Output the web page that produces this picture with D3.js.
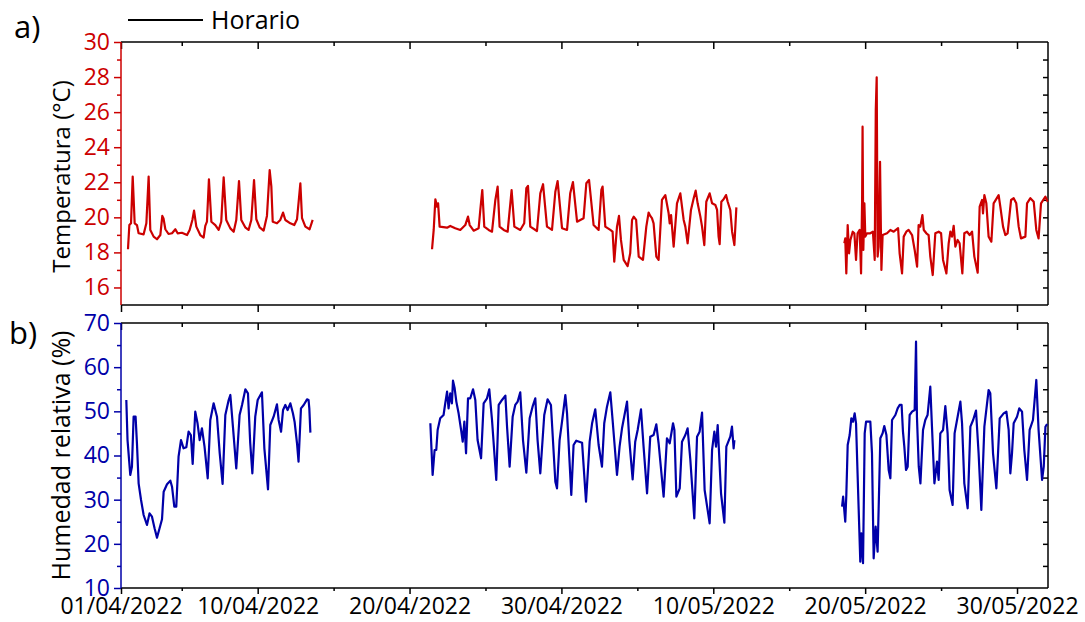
<!DOCTYPE html>
<html>
<head>
  <meta charset="utf-8">
  <style>
    body {
      margin: 0;
      background: #fff;
      font-family: "Open Sans", "Noto Sans", sans-serif;
    }
    .axis text {
      font-family: "Open Sans", "Noto Sans", sans-serif;
      font-size: 23px;
    }
  </style>
</head>
<body>
  <div id="chart"></div>
  <script src="https://d3js.org/d3.v7.min.js"></script>
  <script>

    // DATA (day = days since 01/04/2022 00:00)
    var tempSeg1 = [[0.46,18.18],[0.55,19.56],[0.66,19.66],[0.77,22.32],[0.9,19.66],[1.05,19.56],[1.16,19.09],[1.49,19.03],[1.67,19.66],[1.82,22.32],[1.93,19.28],[2.15,18.9],[2.37,18.75],[2.59,18.99],[2.72,20.08],[2.8,19.94],[2.92,19.32],[3.13,19.05],[3.36,19.09],[3.58,19.32],[3.73,19.09],[4.01,19.12],[4.35,18.99],[4.52,19.28],[4.7,19.85],[4.81,20.38],[4.96,19.47],[5.22,18.99],[5.44,18.84],[5.55,19.51],[5.66,19.75],[5.79,22.17],[5.95,19.75],[6.21,19.56],[6.43,19.28],[6.6,19.75],[6.76,22.28],[6.93,19.85],[7.2,19.37],[7.42,19.18],[7.59,19.85],[7.77,22.07],[7.92,19.85],[8.18,19.43],[8.4,19.28],[8.58,19.85],[8.76,22.13],[8.91,19.89],[9.13,19.43],[9.39,19.24],[9.61,20.08],[9.79,22.7],[9.9,21.75],[9.99,19.75],[10.27,19.66],[10.49,19.85],[10.67,20.27],[10.82,19.85],[11.15,19.66],[11.41,19.56],[11.59,19.89],[11.81,21.94],[11.92,19.95],[12.14,19.47],[12.42,19.32],[12.62,19.85]];

    var tempSeg2 = [[20.48,18.18],[20.59,19.28],[20.7,21.03],[20.81,20.61],[20.88,20.8],[20.98,19.47],[21.47,19.41],[21.68,19.51],[22.01,19.38],[22.34,19.28],[22.67,19.56],[22.85,20.04],[22.96,19.56],[23.22,19.24],[23.55,19.38],[23.66,20.42],[23.79,21.56],[23.92,19.47],[24.21,19.28],[24.43,19.18],[24.65,20.99],[24.8,21.75],[24.93,19.47],[25.2,19.28],[25.46,19.18],[25.72,21.56],[25.9,19.47],[26.29,19.28],[26.55,19.66],[26.69,21.66],[26.8,21.79],[26.95,19.47],[27.39,19.22],[27.61,21.37],[27.79,21.89],[28.05,19.47],[28.38,19.28],[28.6,21.46],[28.75,22.07],[29.04,19.38],[29.37,19.28],[29.58,21.37],[29.76,22.01],[30.03,19.75],[30.46,19.95],[30.64,21.94],[30.82,22.13],[31.12,19.56],[31.45,19.28],[31.63,21.56],[31.71,21.75],[31.89,19.47],[32.22,19.28],[32.37,19.18],[32.48,17.47],[32.66,19.47],[32.79,20.08],[32.92,18.71],[33.1,17.57],[33.36,17.22],[33.53,17.95],[33.65,19.85],[33.76,20.04],[33.92,19.85],[34.09,17.76],[34.37,17.57],[34.59,19.47],[34.74,20.27],[34.85,20.08],[34.96,19.95],[35.07,19.66],[35.25,17.76],[35.4,17.57],[35.62,20.99],[35.84,21.27],[36.06,20.23],[36.13,19.66],[36.22,20.13],[36.39,18.33],[36.61,20.8],[36.83,21.37],[37.05,19.85],[37.16,19.47],[37.31,18.52],[37.53,20.42],[37.71,21.09],[37.84,21.52],[37.97,20.8],[38.15,20.04],[38.26,19.47],[38.41,18.42],[38.54,20.89],[38.76,21.37],[38.92,20.8],[39.14,20.7],[39.25,20.42],[39.35,18.9],[39.42,18.47],[39.53,20.89],[39.68,21.03],[39.84,21.27],[39.95,20.89],[40.12,20.42],[40.24,19.18],[40.39,18.42],[40.52,20.57]];

    var tempSeg3 = [[47.63,18.52],[47.69,18.8],[47.76,16.8],[47.85,19.56],[47.94,17.95],[48.03,18.71],[48.18,19.18],[48.29,19.09],[48.4,17.57],[48.5,19.09],[48.64,19.28],[48.73,16.8],[48.8,20.99],[48.83,25.17],[48.88,18.14],[48.95,20.8],[49.01,18.9],[49.12,19.09],[49.34,19.09],[49.51,19.18],[49.63,17.57],[49.7,26.12],[49.76,27.99],[49.82,17.76],[49.89,18.33],[49.98,23.17],[50.07,17.0],[50.15,18.99],[50.44,19.09],[50.66,19.28],[50.88,19.18],[51.17,19.38],[51.27,17.95],[51.43,16.8],[51.54,18.9],[51.71,19.18],[51.86,19.28],[52.09,18.99],[52.26,18.14],[52.42,17.19],[52.52,19.56],[52.63,19.47],[52.77,20.13],[52.86,19.28],[53.03,19.09],[53.18,18.99],[53.29,17.76],[53.45,16.71],[53.62,19.09],[53.84,19.18],[54.0,19.09],[54.13,17.57],[54.35,16.8],[54.5,18.52],[54.61,19.18],[54.72,18.9],[54.83,19.52],[54.94,18.33],[55.09,18.71],[55.22,18.52],[55.4,16.8],[55.53,19.09],[55.71,19.18],[55.88,18.99],[56.04,19.18],[56.19,17.76],[56.41,16.84],[56.54,20.61],[56.7,20.99],[56.76,20.23],[56.85,21.27],[56.98,20.8],[57.13,18.9],[57.31,18.61],[57.46,20.8],[57.79,21.27],[57.9,20.61],[58.08,19.47],[58.23,18.99],[58.38,19.09],[58.61,20.99],[58.78,21.09],[58.95,20.8],[59.11,19.47],[59.26,18.8],[59.55,18.9],[59.66,20.8],[59.88,21.09],[60.1,20.89],[60.27,19.28],[60.42,18.8],[60.58,20.8],[60.87,21.18],[61.02,20.89]];

    var humSeg1 = [[0.35,52.57],[0.43,43.5],[0.61,35.6],[0.72,37.47],[0.83,48.79],[0.96,48.79],[1.05,42.77],[1.16,33.7],[1.32,29.93],[1.49,26.53],[1.71,24.27],[1.88,26.9],[2.04,26.15],[2.21,23.52],[2.37,21.41],[2.54,23.52],[2.7,25.56],[2.81,31.81],[3.03,33.48],[3.25,34.3],[3.36,32.94],[3.51,28.41],[3.64,28.41],[3.79,39.73],[3.95,43.5],[4.12,41.63],[4.3,41.86],[4.45,45.39],[4.6,44.64],[4.72,38.08],[4.89,49.92],[5.04,47.29],[5.18,43.5],[5.33,46.16],[5.5,42.0],[5.71,34.84],[5.88,48.04],[6.1,51.82],[6.32,48.79],[6.5,40.5],[6.69,33.55],[6.87,49.17],[7.09,52.57],[7.2,53.7],[7.37,46.52],[7.59,37.1],[7.81,49.17],[7.97,51.44],[8.19,54.99],[8.36,54.08],[8.51,42.77],[8.65,35.97],[8.84,48.79],[9.0,52.57],[9.28,54.31],[9.44,41.63],[9.68,32.35],[9.83,46.91],[10.05,48.79],[10.27,51.59],[10.38,48.04],[10.54,45.39],[10.67,50.3],[10.82,51.44],[10.97,50.3],[11.15,51.82],[11.32,49.55],[11.43,47.66],[11.59,42.77],[11.69,38.6],[11.85,50.68],[12.03,51.44],[12.25,52.72],[12.35,52.57],[12.4,50.68],[12.47,45.17]];

    var humSeg2 = [[20.37,47.29],[20.52,35.59],[20.65,41.25],[20.76,41.25],[20.85,45.78],[21.02,48.42],[21.24,49.17],[21.35,51.82],[21.47,54.45],[21.57,50.68],[21.68,54.08],[21.79,51.82],[21.86,56.94],[21.97,55.22],[22.08,52.2],[22.23,49.55],[22.41,45.39],[22.5,43.13],[22.61,47.66],[22.72,40.5],[22.85,52.95],[23.0,52.95],[23.18,54.99],[23.33,52.57],[23.48,43.5],[23.71,39.37],[23.88,51.82],[24.1,52.95],[24.25,54.99],[24.43,48.04],[24.71,34.46],[24.87,51.44],[25.09,52.57],[25.31,53.55],[25.42,46.52],[25.59,37.47],[25.79,48.79],[25.96,51.44],[26.12,52.2],[26.29,54.31],[26.47,43.5],[26.69,36.1],[26.91,48.42],[27.1,51.06],[27.28,52.95],[27.43,43.5],[27.61,35.97],[27.87,49.17],[28.09,52.72],[28.31,51.44],[28.6,34.08],[28.71,32.57],[28.88,43.5],[29.04,47.66],[29.26,53.7],[29.37,49.55],[29.65,31.06],[29.8,42.38],[29.98,43.35],[30.36,42.9],[30.62,29.55],[30.86,43.13],[31.02,47.29],[31.23,50.45],[31.45,42.38],[31.67,37.47],[31.82,47.29],[32.0,51.06],[32.22,54.31],[32.37,48.04],[32.66,35.59],[32.83,42.0],[32.99,46.16],[33.32,52.2],[33.47,43.5],[33.69,34.61],[33.86,43.13],[34.02,45.78],[34.24,50.45],[34.41,42.0],[34.64,31.44],[34.85,44.26],[35.07,44.64],[35.25,47.07],[35.4,42.77],[35.73,30.68],[35.95,43.9],[36.13,42.77],[36.35,47.29],[36.44,45.78],[36.57,30.68],[36.79,32.57],[36.94,43.13],[37.16,44.64],[37.31,46.16],[37.49,38.98],[37.75,25.78],[37.93,44.26],[38.1,45.39],[38.26,49.7],[38.43,32.19],[38.76,24.65],[38.92,41.25],[39.07,45.39],[39.18,42.0],[39.29,46.91],[39.51,31.44],[39.73,24.8],[39.86,42.0],[40.12,44.26],[40.23,46.52],[40.34,41.63],[40.39,43.5]];

    var humSeg3 = [[47.48,28.41],[47.55,30.68],[47.69,25.0],[47.76,31.06],[47.85,42.38],[47.98,44.64],[48.09,48.42],[48.2,47.66],[48.31,49.55],[48.4,47.29],[48.5,35.97],[48.68,15.97],[48.75,22.39],[48.86,15.6],[48.97,45.02],[49.06,47.66],[49.34,47.66],[49.45,40.5],[49.56,16.72],[49.69,23.88],[49.82,18.22],[50.0,43.9],[50.15,45.02],[50.26,46.68],[50.4,44.64],[50.55,36.72],[50.66,34.84],[50.77,48.04],[50.99,49.17],[51.14,50.68],[51.27,51.44],[51.4,51.44],[51.49,45.39],[51.58,42.0],[51.69,36.72],[51.8,37.47],[51.93,49.17],[52.09,49.92],[52.26,50.3],[52.35,65.77],[52.41,48.79],[52.53,37.47],[52.64,33.7],[52.81,45.78],[52.96,48.04],[53.11,49.17],[53.29,55.58],[53.4,46.52],[53.56,33.7],[53.73,38.6],[53.84,34.46],[53.95,45.02],[54.13,45.78],[54.28,51.21],[54.43,45.02],[54.56,32.19],[54.76,28.8],[54.89,45.02],[55.05,48.04],[55.27,52.2],[55.38,47.29],[55.53,33.7],[55.75,28.05],[55.93,46.52],[56.11,48.04],[56.3,50.15],[56.47,40.5],[56.65,27.67],[56.85,46.52],[57.13,54.83],[57.24,54.08],[57.42,40.5],[57.64,32.57],[57.86,48.42],[58.12,49.55],[58.3,49.92],[58.45,45.78],[58.56,35.97],[58.67,40.5],[58.78,47.29],[59.0,48.79],[59.15,50.68],[59.33,49.92],[59.48,41.25],[59.66,34.46],[59.83,45.78],[60.05,48.04],[60.27,57.1],[60.42,45.78],[60.65,34.46],[60.76,37.47],[60.87,46.52],[60.98,47.14]];

    var xMajorLabels = ['01/04/2022', '10/04/2022', '20/04/2022', '30/04/2022', '10/05/2022', '20/05/2022', '30/05/2022'];
    var xMinorLabels = ['05/04/2022', '15/04/2022', '25/04/2022', '05/05/2022', '15/05/2022', '25/05/2022'];
    var tempTicks = [16, 18, 20, 22, 24, 26, 28, 30];
    var tempMinor = [17, 19, 21, 23, 25, 27, 29];
    var humTicks = [10, 20, 30, 40, 50, 60, 70];
    var humMinor = [15, 25, 35, 45, 55, 65];
    var legendLabel = 'Horario';

    // LAYOUT
    var width = 1085, height = 622;
    var left = 121, right = 1048;
    var topA = 42, bottomA = 305;
    var topB = 323, bottomB = 588;
    var red = '#cc0000', blue = '#0000a8';

    var parse = d3.timeParse('%d/%m/%Y');
    var start = parse('01/04/2022');
    var DAY = 864e5;
    function toDate(d) { return new Date(start.getTime() + d * DAY); }

    var x = d3.scaleTime()
      .domain([start, toDate(61.04)])
      .range([left, right]);

    var yT = d3.scaleLinear().domain([15, 30]).range([bottomA, topA]);
    var yH = d3.scaleLinear().domain([10, 70]).range([bottomB, topB]);

    var svg = d3.select('#chart').append('svg')
      .attr('width', width)
      .attr('height', height);

    var majorDates = xMajorLabels.map(parse);
    var minorDates = xMinorLabels.map(parse);

    function styleAxis(g, color) {
      g.select('.domain').remove();
      g.selectAll('line').attr('stroke', color).attr('stroke-width', 1.5);
      g.selectAll('text').attr('fill', color);
    }

    function xAxes(yPos, major, minor, labels) {
      var gMaj = svg.append('g').attr('class', 'axis')
        .attr('transform', 'translate(0,' + yPos + ')')
        .call(d3.axisBottom(x).tickValues(majorDates).tickSize(major).tickPadding(4)
          .tickFormat(labels ? d3.timeFormat('%d/%m/%Y') : ''));
      styleAxis(gMaj, '#000');
      var gMin = svg.append('g').attr('class', 'axis')
        .attr('transform', 'translate(0,' + yPos + ')')
        .call(d3.axisBottom(x).tickValues(minorDates).tickSize(minor).tickFormat(''));
      styleAxis(gMin, '#000');
    }

    function yAxes(y, ticks, minor, rightTicks, color) {
      var gL = svg.append('g').attr('class', 'axis')
        .attr('transform', 'translate(' + left + ',0)')
        .call(d3.axisLeft(y).tickValues(ticks).tickSize(7).tickPadding(4));
      styleAxis(gL, color);
      var gLm = svg.append('g').attr('class', 'axis')
        .attr('transform', 'translate(' + left + ',0)')
        .call(d3.axisLeft(y).tickValues(minor).tickSize(4).tickFormat(''));
      styleAxis(gLm, color);
      var gR = svg.append('g').attr('class', 'axis')
        .attr('transform', 'translate(' + right + ',0)')
        .call(d3.axisLeft(y).tickValues(rightTicks).tickSize(5).tickFormat(''));
      styleAxis(gR, '#000');
    }

    // panel a)
    xAxes(topA, 7, 4, false);
    xAxes(bottomA, 7, 4, false);
    yAxes(yT, tempTicks, tempMinor, d3.range(16, 30, 1), red);

    // panel b)
    xAxes(topB, 7, 4, false);
    xAxes(bottomB, 6, 3, true);
    yAxes(yH, humTicks, humMinor, d3.range(15, 70, 5), blue);

    // frame lines
    function frame(y0, y1, leftColor) {
      [[left, y0, right, y0], [left, y1, right, y1], [right, y0, right, y1]].forEach(function(s) {
        svg.append('line').attr('x1', s[0]).attr('y1', s[1]).attr('x2', s[2]).attr('y2', s[3])
          .attr('stroke', '#000').attr('stroke-width', 1.5);
      });
      svg.append('line').attr('x1', left).attr('x2', left).attr('y1', y0).attr('y2', y1)
        .attr('stroke', leftColor).attr('stroke-width', 1.5);
    }
    frame(topA, bottomA, red);
    frame(topB, bottomB, blue);

    // lines
    var lineT = d3.line().x(function(d) { return x(toDate(d[0])); }).y(function(d) { return yT(d[1]); });
    var lineH = d3.line().x(function(d) { return x(toDate(d[0])); }).y(function(d) { return yH(d[1]); });

    [tempSeg1, tempSeg2, tempSeg3].forEach(function(seg) {
      svg.append('path').datum(seg)
        .attr('d', lineT)
        .attr('fill', 'none')
        .attr('stroke', red)
        .attr('stroke-width', 2.2)
        .attr('stroke-linejoin', 'round');
    });

    [humSeg1, humSeg2, humSeg3].forEach(function(seg) {
      svg.append('path').datum(seg)
        .attr('d', lineH)
        .attr('fill', 'none')
        .attr('stroke', blue)
        .attr('stroke-width', 2.2)
        .attr('stroke-linejoin', 'round');
    });

    // titles
    svg.append('text')
      .attr('transform', 'translate(70,' + ((topA + bottomA) / 2 + 3) + ') rotate(-90)')
      .attr('text-anchor', 'middle')
      .style('font-size', '24px')
      .text('Temperatura (°C)');

    svg.append('text')
      .attr('transform', 'translate(70,' + ((topB + bottomB) / 2) + ') rotate(-90)')
      .attr('text-anchor', 'middle')
      .style('font-size', '25px')
      .text('Humedad relativa (%)');

    svg.append('text').attr('x', 14).attr('y', 38).style('font-size', '31px').text('a)');
    svg.append('text').attr('x', 9).attr('y', 344).style('font-size', '31px').text('b)');

    // legend
    svg.append('line').attr('x1', 128).attr('x2', 203).attr('y1', 20).attr('y2', 20)
      .attr('stroke', '#000').attr('stroke-width', 2);
    svg.append('text').attr('x', 211).attr('y', 29).style('font-size', '25px').text(legendLabel);

  </script>
</body>
</html>
